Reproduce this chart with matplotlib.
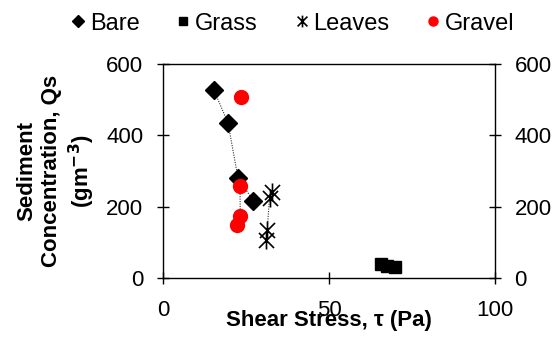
import numpy as np
import matplotlib.pyplot as plt
from matplotlib.path import Path

plt.rcParams['font.family'] = ['Liberation Sans', 'DejaVu Sans']

# shear stress (Pa) and sediment concentration (g m^-3)
bare_x = [15.3, 19.6, 22.6, 27.2]
bare_y = [528, 435, 281, 217]
grass_x = [65.8, 67.5, 69.8]
grass_y = [38, 33, 30]
leaves_x = [32.9, 32.1, 31.4, 31.1]
leaves_y = [241, 225, 134, 106]
gravel_x = [23.5, 23.2, 23.3, 22.2]
gravel_y = [509, 257, 175, 149]

# excel style star: x plus vertical bar
star = Path([(-1, -1), (1, 1), (-1, 1), (1, -1), (0, -1.2), (0, 1.2)],
            [Path.MOVETO, Path.LINETO, Path.MOVETO, Path.LINETO, Path.MOVETO, Path.LINETO])

fig = plt.figure(figsize=(5.58, 3.38), dpi=100)
ax = fig.add_axes([0.292, 0.1775, 0.595, 0.633])

# dotted trend lines
for xs, ys in [(bare_x, bare_y), (leaves_x, leaves_y), (gravel_x[1:], gravel_y[1:])]:
    ax.plot(xs, ys, ls=(0, (1, 1.2)), color='#333333', lw=0.8)

ax.plot(bare_x, bare_y, 'D', color='black', ms=9, ls='none', label='Bare')
ax.plot(grass_x, grass_y, 's', color='black', ms=9, ls='none', label='Grass')
ax.plot(leaves_x, leaves_y, marker=star, color='black', mfc='none', mew=1.2,
        ms=13, ls='none', label='Leaves')
ax.plot(gravel_x, gravel_y, 'o', color='red', ms=10, ls='none', label='Gravel')

ax.set_xlim(0, 100)
ax.set_ylim(0, 600)
ax.set_xticks([0, 50, 100])
ax.set_yticks([0, 200, 400, 600])
ax.tick_params(axis='both', labelsize=16, direction='inout', length=8, width=1)
ax.tick_params(axis='x', pad=12)
ax.tick_params(axis='y', right=True, labelright=True, pad=10)
for s in ax.spines.values():
    s.set_linewidth(1)

ax.set_xlabel('Shear Stress, τ (Pa)', fontsize=16, fontweight='bold', labelpad=-8)
ax.set_ylabel('Sediment\nConcentration, Qs\n(gm$^{\\mathbf{-3}}$)', fontsize=16,
              fontweight='bold', linespacing=1.2, labelpad=7)

fig.legend(loc='center', bbox_to_anchor=(0.526, 0.93), ncol=4, frameon=False,
           fontsize=17, markerscale=0.65, handlelength=0.5, handletextpad=0.25,
           columnspacing=1.6)

fig.savefig('out.png', dpi=100)
